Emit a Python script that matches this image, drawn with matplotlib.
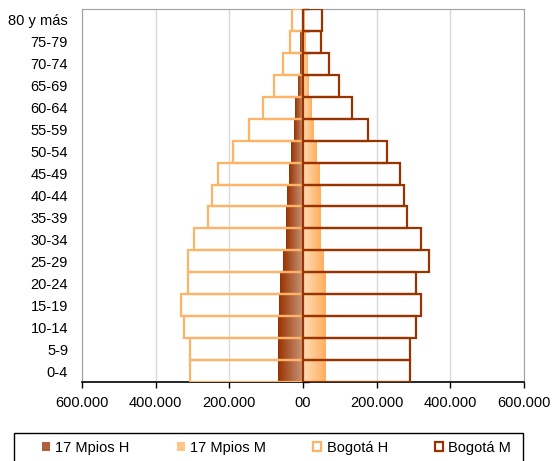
import matplotlib.pyplot as plt
import numpy as np
from matplotlib.colors import LinearSegmentedColormap
from matplotlib.patches import Patch, Rectangle

plt.rcParams['font.family'] = ['Liberation Sans', 'DejaVu Sans']

edades = ['0-4', '5-9', '10-14', '15-19', '20-24', '25-29', '30-34', '35-39',
          '40-44', '45-49', '50-54', '55-59', '60-64', '65-69', '70-74',
          '75-79', '80 y más']

# población por grupo de edad
mpios_h = [67000, 67000, 67000, 64000, 62000, 53000, 46000, 45000,
           43000, 38000, 33000, 25000, 22000, 13000, 7000, 7000, 3000]
mpios_m = [62000, 62000, 62000, 62000, 62000, 55000, 47000, 47000,
           47000, 45000, 37000, 29000, 22000, 14000, 12000, 7000, 5000]
bogota_h = [306000, 306000, 322000, 331000, 313000, 313000, 295000, 257000,
            247000, 231000, 191000, 146000, 108000, 78000, 53000, 34000, 31000]
bogota_m = [290000, 290000, 308000, 320000, 308000, 342000, 320000, 282000,
            275000, 264000, 227000, 176000, 133000, 97000, 71000, 49000, 52000]

c_bog_h = '#FFB366'
c_bog_m = '#993300'
fs = 10.5

cmap_h = LinearSegmentedColormap.from_list('h', ['#993300', '#C8957A'])
cmap_m = LinearSegmentedColormap.from_list('m', ['#FFDDB8', '#FFAE5E'])
grad = np.linspace(0, 1, 256).reshape(1, -1)

fig = plt.figure(figsize=(5.53, 4.61), dpi=100)
ax = fig.add_axes([82 / 553, 1 - 382 / 461, 442 / 553, 373 / 461])

y = np.arange(len(edades))

# barras con degradado (17 municipios)
for i in range(len(edades)):
    ax.imshow(grad, extent=[-mpios_h[i], 0, y[i] - 0.5, y[i] + 0.5],
              cmap=cmap_h, aspect='auto', zorder=2)
    ax.imshow(grad, extent=[0, mpios_m[i], y[i] - 0.5, y[i] + 0.5],
              cmap=cmap_m, aspect='auto', zorder=2)

# contornos Bogotá
ax.barh(y, -np.array(bogota_h), height=1.0, fill=False,
        edgecolor=c_bog_h, linewidth=1.6, zorder=3)
ax.barh(y, bogota_m, height=1.0, fill=False,
        edgecolor=c_bog_m, linewidth=1.6, zorder=3)

ax.set_xlim(-600000, 600000)
ax.set_ylim(-0.5, len(edades) - 0.5)
ax.set_xticks(np.arange(-600000, 600001, 200000))
ax.xaxis.set_major_formatter(
    lambda v, p: '00' if v == 0 else f'{abs(int(v)):,}'.replace(',', '.'))
ax.set_yticks(y)
ax.set_yticklabels(edades)
ax.tick_params(axis='y', length=0, pad=10, labelsize=fs)
ax.tick_params(axis='x', length=4, width=1, pad=6, labelsize=fs, color='black')
ax.grid(axis='x', color='#D9D9D9', linewidth=1, zorder=0)
ax.set_axisbelow(True)

for s in ['left', 'top', 'right']:
    ax.spines[s].set_color('#A0A0A0')
ax.spines['bottom'].set_color('black')
ax.spines['bottom'].set_linewidth(1.2)

# eje central
sec = ax.secondary_yaxis(0.5)
sec.set_yticks(np.arange(-0.5, len(edades), 1.0))
sec.set_yticklabels([])
sec.tick_params(length=4, width=1, color='black')
sec.spines['left'].set_color('black')
sec.spines['left'].set_linewidth(1.2)

# leyenda
handles = [
    Patch(facecolor='#B0603A', edgecolor='none', label='17 Mpios H'),
    Patch(facecolor='#FFC688', edgecolor='none', label='17 Mpios M'),
    Patch(facecolor='white', edgecolor=c_bog_h, linewidth=1.6, label='Bogotá H'),
    Patch(facecolor='white', edgecolor=c_bog_m, linewidth=1.6, label='Bogotá M'),
]
fig.legend(handles=handles, loc='center left', ncol=4,
           bbox_to_anchor=(42 / 553, 1 - 448 / 461),
           fontsize=fs, frameon=False, borderpad=0, borderaxespad=0,
           handlelength=0.55, handleheight=0.55, handletextpad=0.35,
           columnspacing=3.25)
fig.patches.append(Rectangle((14 / 553, 1 - 466 / 461), 509 / 553, 33 / 461,
                             transform=fig.transFigure, fill=False,
                             edgecolor='black', linewidth=1))

fig.savefig('out.png', dpi=100)
